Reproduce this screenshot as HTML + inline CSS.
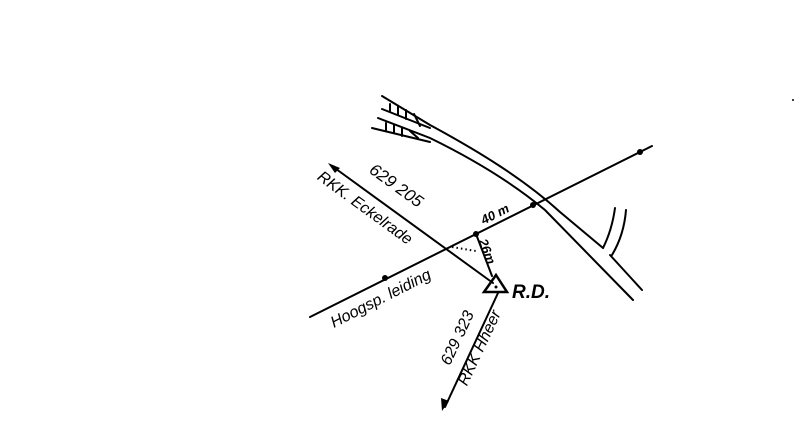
<!DOCTYPE html>
<html><head><meta charset="utf-8"><style>
html,body{margin:0;padding:0;background:#fff;}
svg{display:block;}
text{font-family:"Liberation Sans",sans-serif;font-style:italic;fill:#000;}
</style></head><body>
<svg width="800" height="423" viewBox="0 0 800 423" xmlns="http://www.w3.org/2000/svg">
<g stroke="#000" stroke-width="2" fill="none" stroke-linecap="round">
<!-- road -->
<path d="M382,96 L430,125 C480,152 525,180 560,212 L603,248"/>
<path d="M610,255 L642,290"/>
<path d="M603,248 Q612,230 615,208"/>
<path d="M612,255 Q624,235 626,210"/>
<path d="M378,118 L430,138 C475,160 515,185 545,210 L633,300"/>
<path d="M382,109 L430,128"/>
<path d="M372,128 L430,142"/>
<path d="M390,104 L390,111 M398,106 L398,115 M406,110 L406,119 M414,114 L420,126"/>
<path d="M386,123 L386,131 M394,125 L394,133 M402,128 L402,136 M410,131 L418,138"/>
<!-- power line -->
<path d="M310,317 L652,146"/>
<!-- Eckelrade -->
<path d="M332,166 L493,283"/>
<!-- 26m -->
<path d="M476,234 L492,276"/>
<!-- Hheer -->
<path d="M498,293 L445,407"/>
<!-- triangle -->
<path d="M496,275 L507,292 L484,292 Z" stroke-width="2.5"/>
</g>
<path d="M452,247 L476,251" stroke="#000" stroke-width="2" stroke-dasharray="1.5,3" fill="none"/>
<g fill="#000">
<circle cx="385" cy="278" r="3"/><circle cx="476" cy="234" r="3"/><circle cx="533" cy="205" r="3"/><circle cx="640" cy="152" r="3"/>
<circle cx="496" cy="287" r="1.5"/><circle cx="793" cy="100" r="1"/>
<polygon points="328,163 340,168 335,173"/>
<polygon points="442,411 441,398 449,401"/>
</g>
<text transform="translate(393,190) rotate(36)" font-size="17" text-anchor="middle">629 205</text>
<text transform="translate(362,212) rotate(36)" font-size="16" text-anchor="middle">RKK. Eckelrade</text>
<text transform="translate(497,218) rotate(-27)" font-size="13" font-weight="bold" text-anchor="middle">40 m</text>
<text transform="translate(483,253) rotate(69)" font-size="13" font-weight="bold" text-anchor="middle">26m</text>
<text transform="translate(383,303) rotate(-27)" font-size="16" text-anchor="middle">Hoogsp. leiding</text>
<text x="512" y="298" font-size="19" font-weight="bold">R.D.</text>
<text transform="translate(462,340) rotate(-65)" font-size="16" text-anchor="middle">629 323</text>
<text transform="translate(484,350) rotate(-65)" font-size="16" text-anchor="middle">RKK Hheer</text>
</svg>
</body></html>
